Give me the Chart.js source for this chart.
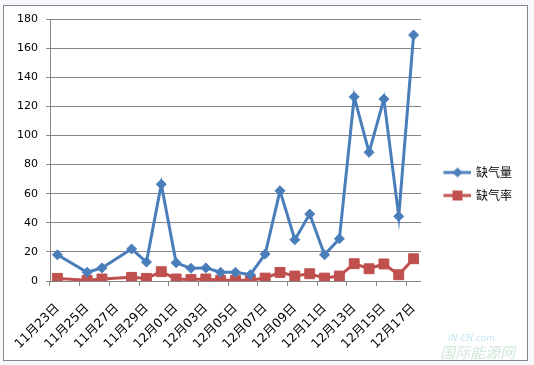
<!DOCTYPE html>
<html>
<head>
<meta charset="utf-8">
<script src="https://cdn.jsdelivr.net/npm/chart.js@4/dist/chart.umd.min.js"></script>
<style>
  html, body { margin: 0; padding: 0; background: #fff; }
  canvas { display: block; }
</style>
</head>
<body>
<canvas id="gasChart" width="534" height="365"></canvas>
<script>
const days = ['11月23日', '11月24日', '11月25日', '11月26日', '11月27日', '11月28日', '11月29日', '11月30日',
  '12月01日', '12月02日', '12月03日', '12月04日', '12月05日', '12月06日', '12月07日', '12月08日', '12月09日',
  '12月10日', '12月11日', '12月12日', '12月13日', '12月14日', '12月15日', '12月16日', '12月17日'];

// 缺气量 (no data for 11/24 and 11/27)
const shortage = [18, null, 6, 9, null, 22, 13, 66.5, 12.5, 8.7, 9, 6, 6, 4.3, 18.5, 62, 28.4, 46, 18, 29, 126.5, 88.4, 125, 44.4, 169];
// 缺气率
const shortageRate = [1.8, null, 0.5, 1.4, null, 2.5, 1.8, 6.4, 1.4, 1, 1.4, 0.5, 0.5, 0.5, 2, 5.9, 3.4, 5, 2, 3.4, 11.9, 8.4, 11.7, 4.3, 15.3];

const seriesNames = ['缺气量', '缺气率'];
const yTicks = [0, 20, 40, 60, 80, 100, 120, 140, 160, 180];

const blue = '#4A7EBB';
const red = '#C0504D';
const gridGray = '#868686';
const labelFont = '"DejaVu Sans", "Noto Sans CJK SC", sans-serif';

// legend swatch: short line with marker on it
function swatch(color, style) {
  const c = document.createElement('canvas');
  c.width = 41; c.height = 12;
  const g = c.getContext('2d');
  g.strokeStyle = color;
  g.lineWidth = 3;
  g.beginPath(); g.moveTo(13, 6); g.lineTo(41, 6); g.stroke();
  g.fillStyle = color;
  if (style === 'diamond') {
    g.beginPath(); g.moveTo(27, 1); g.lineTo(32, 6); g.lineTo(27, 11); g.lineTo(22, 6); g.closePath(); g.fill();
  } else {
    g.fillRect(22, 1, 10, 10);
  }
  return c;
}
const swatches = [swatch(blue, 'diamond'), swatch(red, 'square')];

const frame = {
  id: 'frame',
  beforeDraw(chart) {
    const ctx = chart.ctx;
    ctx.save();
    ctx.fillStyle = '#f6f8fb';
    ctx.fillRect(0, 0, chart.width, chart.height);
    ctx.fillStyle = '#ffffff';
    ctx.fillRect(3, 5, 524, 355);
    ctx.strokeStyle = gridGray;
    ctx.lineWidth = 1;
    ctx.strokeRect(3.5, 5.5, 524, 355);
    ctx.restore();
  },
  afterDraw(chart) {
    const ctx = chart.ctx;
    ctx.save();
    ctx.font = 'italic 9px "DejaVu Sans", sans-serif';
    ctx.fillStyle = 'rgba(120,190,220,0.45)';
    ctx.fillText('IN-EN.com', 448, 341);
    ctx.font = 'italic 15px "Noto Sans CJK SC", sans-serif';
    ctx.fillStyle = 'rgba(140,200,160,0.4)';
    ctx.fillText('国际能源网', 440, 358);
    ctx.restore();
  }
};

new Chart(document.getElementById('gasChart').getContext('2d'), {
  type: 'line',
  data: {
    labels: days,
    datasets: [{
      label: seriesNames[0],
      data: shortage,
      borderColor: blue,
      backgroundColor: blue,
      borderWidth: 3,
      pointStyle: 'rectRot',
      pointRadius: 5,
      pointBorderWidth: 1,
      tension: 0,
      spanGaps: true
    }, {
      label: seriesNames[1],
      data: shortageRate,
      borderColor: red,
      backgroundColor: red,
      borderWidth: 3,
      pointStyle: 'rect',
      pointRadius: 7,
      pointBorderWidth: 1,
      tension: 0,
      spanGaps: true
    }]
  },
  options: {
    responsive: false,
    animation: false,
    devicePixelRatio: 1,
    layout: { padding: { top: 19, left: 0, bottom: 16, right: 12 } },
    plugins: {
      tooltip: { enabled: false },
      legend: {
        position: 'right',
        labels: {
          usePointStyle: true,
          pointStyleWidth: 38,
          padding: 11,
          color: '#000',
          font: { family: '"Noto Sans CJK SC", sans-serif', size: 12 },
          generateLabels(chart) {
            return chart.data.datasets.map((ds, i) => ({
              text: ds.label,
              pointStyle: swatches[i],
              fillStyle: ds.backgroundColor,
              strokeStyle: ds.borderColor,
              lineWidth: 0,
              fontColor: '#000',
              hidden: false,
              datasetIndex: i
            }));
          }
        }
      }
    },
    scales: {
      x: {
        type: 'category',
        offset: true,
        afterFit(s) { s.height = 68; },
        border: { color: gridGray, width: 1 },
        grid: {
          offset: true,
          drawOnChartArea: false,
          tickLength: 5,
          color: (c) => (c.index % 2 === 0 ? gridGray : 'rgba(0,0,0,0)')
        },
        ticks: {
          autoSkip: false,
          maxRotation: 45,
          minRotation: 45,
          padding: 15,
          color: '#000',
          font: { family: labelFont, size: 12.5 },
          callback: (v, i) => (i % 2 === 0 ? days[i] : '')
        }
      },
      y: {
        min: 0,
        max: 180,
        afterFit(s) { s.width = 50; },
        afterBuildTicks(s) { s.ticks = yTicks.map(v => ({ value: v })); },
        border: { color: gridGray, width: 1 },
        grid: { color: gridGray, tickLength: 4 },
        ticks: {
          padding: 8,
          color: '#000',
          font: { family: labelFont, size: 11 }
        }
      }
    }
  },
  plugins: [frame]
});
</script>
</body>
</html>
